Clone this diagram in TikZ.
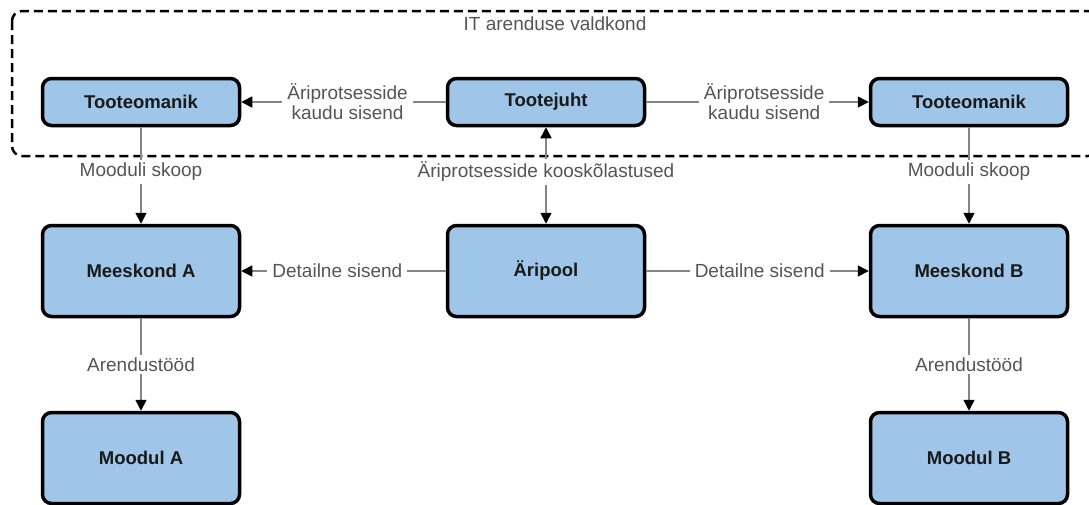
\documentclass[tikz,border=0pt]{standalone}
\usepackage{fontspec}
\setmainfont{Liberation Sans}
\usetikzlibrary{arrows.meta}
\definecolor{boxblue}{HTML}{9FC5E8}
\definecolor{linkgray}{HTML}{858585}
\definecolor{labelgray}{HTML}{555555}
\begin{document}
\begin{tikzpicture}[x=1pt,y=-1pt,
  box/.style={draw=black, line width=3.5pt, rounded corners=9pt, fill=boxblue,
    minimum width=197pt, inner sep=0pt, text=black!90,
    font=\bfseries\fontsize{18.5}{22}\selectfont},
  lowbox/.style={box, minimum height=47pt},
  tallbox/.style={box, minimum height=91pt},
  link/.style={draw=linkgray, line width=1.6pt, -{Triangle[length=11pt,width=11pt,color=black]}},
  twoway/.style={draw=linkgray, line width=1.6pt, {Triangle[length=11pt,width=11pt,color=black]}-{Triangle[length=11pt,width=11pt,color=black]}},
  lbl/.style={fill=white, text=labelgray, font=\fontsize{19}{20}\selectfont,
    inner xsep=5pt, inner ysep=3pt, align=center},
]
\useasboundingbox (0,0) rectangle (1089,504);

% dashed area boundary (runs past the right edge)
\begin{scope}
  \clip (0,0) rectangle (1089,504);
  \draw[line width=2.5pt, dash pattern=on 9pt off 5pt, rounded corners=10pt]
    (12,11) rectangle (1098,156);
\end{scope}
\node[text=labelgray, font=\fontsize{19}{20}\selectfont, inner sep=0pt] (area) at (555,24) {IT arenduse valdkond};

% top row
\node[lowbox] (omanikA) at (141,102) {Tooteomanik};
\node[lowbox] (juht)    at (546,102) {Tootejuht};
\node[lowbox] (omanikB) at (969,102) {Tooteomanik};

% middle row
\node[tallbox] (meeskondA) at (141,271) {Meeskond A};
\node[tallbox] (aripool)   at (546,271) {Äripool};
\node[tallbox] (meeskondB) at (969,271) {Meeskond B};

% bottom row
\node[tallbox] (moodulA) at (141,458) {Moodul A};
\node[tallbox] (moodulB) at (969,458) {Moodul B};

% connectors
\draw[link] (juht) -- node[lbl, pos=0.48] {Äriprotsesside\\kaudu sisend} (omanikA);
\draw[link] (juht) -- node[lbl, pos=0.53] {Äriprotsesside\\kaudu sisend} (omanikB);
\draw[twoway] (juht) -- node[lbl, pos=0.46] {Äriprotsesside kooskõlastused} (aripool);

\draw[link] (omanikA) -- node[lbl, pos=0.46] {Mooduli skoop} (meeskondA);
\draw[link] (omanikB) -- node[lbl, pos=0.46] {Mooduli skoop} (meeskondB);

\draw[link] (aripool) -- node[lbl, pos=0.53] {Detailne sisend} (meeskondA);
\draw[link] (aripool) -- node[lbl, pos=0.51] {Detailne sisend} (meeskondB);

\draw[link] (meeskondA) -- node[lbl] {Arendustööd} (moodulA);
\draw[link] (meeskondB) -- node[lbl] {Arendustööd} (moodulB);
\end{tikzpicture}
\end{document}
